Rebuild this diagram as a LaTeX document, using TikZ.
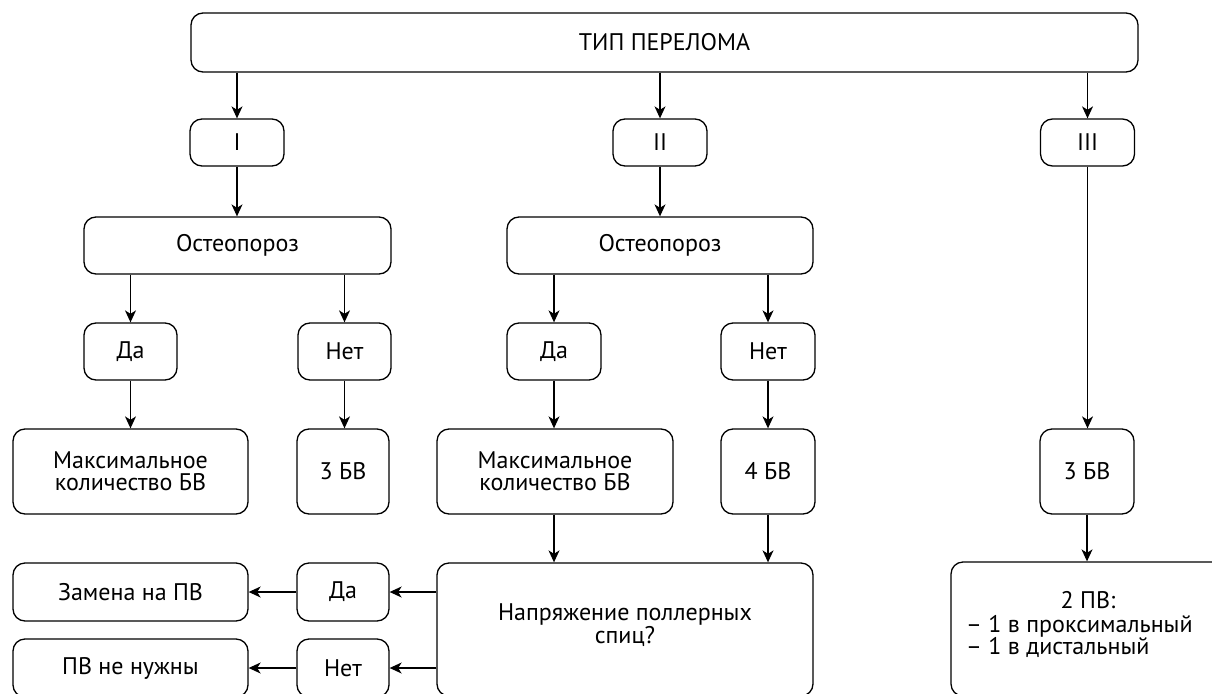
\documentclass[tikz,border=0pt]{standalone}
\usepackage{fontspec}
\setmainfont{PT Sans}
\usetikzlibrary{arrows.meta}
\begin{document}
\begin{tikzpicture}[x=1pt,y=-1pt,
  box/.style={draw=black, rounded corners=12pt, line width=1.3pt, align=center, inner sep=0pt,
    font=\fontsize{24}{22}\selectfont, text=black},
  txt/.style={inner sep=0pt, font=\fontsize{24}{22.5}\selectfont, text=black},
  arr/.style={line width=1.3pt, -{Stealth[length=12pt,width=11pt,inset=3.5pt]}}]
\useasboundingbox (0,0) rectangle (1212,693);
\clip (0,0) rectangle (1212,693);
% nodes
\node[box, minimum width=947, minimum height=59] (top) at (664.5,42.5) {ТИП ПЕРЕЛОМА};
\node[box, minimum width=94, minimum height=47] (t1) at (237,142.5) {I};
\node[box, minimum width=94, minimum height=47] (t2) at (660,142.5) {II};
\node[box, minimum width=94, minimum height=47] (t3) at (1087.5,142.5) {III};
\node[box, minimum width=307, minimum height=57] (o1) at (237.5,245.5) {Остеопороз};
\node[box, minimum width=306, minimum height=57] (o2) at (660,245.5) {Остеопороз};
\node[box, minimum width=93, minimum height=57] (da1) at (130.5,351.5) {Да};
\node[box, minimum width=93, minimum height=57] (net1) at (344.5,351.5) {Нет};
\node[box, minimum width=94, minimum height=57] (da2) at (554,351.5) {Да};
\node[box, minimum width=94, minimum height=57] (net2) at (768,351.5) {Нет};
\node[box, minimum width=235, minimum height=85] (m1) at (130.5,471.5) {Максимальное\\количество БВ};
\node[box, minimum width=92, minimum height=85] (b3a) at (343,471.5) {3 БВ};
\node[box, minimum width=236, minimum height=85] (m2) at (555,471.5) {Максимальное\\количество БВ};
\node[box, minimum width=94, minimum height=85] (b4) at (768,471.5) {4 БВ};
\node[box, minimum width=94, minimum height=85] (b3b) at (1087,471.5) {3 БВ};
\node[box, minimum width=376, minimum height=133] (nap) at (625,629.5) {};
\node[txt, align=center] (naptxt) at (625,625) {Напряжение поллерных\\спиц?};
\node[box, minimum width=274, minimum height=134] (pv2) at (1088,629) {};
\node[txt] (pv2a) at (1088,600) {2 ПВ:};
\node[txt, align=left, anchor=west] (pv2b) at (966,636.5) {– 1 в проксимальный\\– 1 в дистальный};
\node[box, minimum width=235, minimum height=58] (zam) at (130.5,592) {Замена на ПВ};
\node[box, minimum width=92, minimum height=58] (da3) at (343,592) {Да};
\node[box, minimum width=235, minimum height=58] (pvn) at (130.5,668) {ПВ не нужны};
\node[box, minimum width=92, minimum height=58] (net3) at (343,668) {Нет};
% connectors
\draw[arr] (t1.north |- top.south) -- (t1.north);
\draw[arr] (t2.north |- top.south) -- (t2.north);
\draw[arr] (t3.north |- top.south) -- (t3.north);
\draw[arr] (t1.south) -- (t1.south |- o1.north);
\draw[arr] (t2.south) -- (t2.south |- o2.north);
\draw[arr] (da1.north |- o1.south) -- (da1.north);
\draw[arr] (net1.north |- o1.south) -- (net1.north);
\draw[arr] (da2.north |- o2.south) -- (da2.north);
\draw[arr] (net2.north |- o2.south) -- (net2.north);
\draw[arr] (da1.south) -- (da1.south |- m1.north);
\draw[arr] (net1.south) -- (net1.south |- b3a.north);
\draw[arr] (da2.south) -- (da2.south |- m2.north);
\draw[arr] (net2.south) -- (net2.south |- b4.north);
\draw[arr] (t3.south) -- (t3.south |- b3b.north);
\draw[arr] (da2.south |- m2.south) -- (da2.south |- nap.north);
\draw[arr] (b4.south) -- (b4.south |- nap.north);
\draw[arr] (b3b.south) -- (b3b.south |- pv2.north);
\draw[arr] (nap.west |- da3.east) -- (da3.east);
\draw[arr] (nap.west |- net3.east) -- (net3.east);
\draw[arr] (da3.west) -- (zam.east);
\draw[arr] (net3.west) -- (pvn.east);
\end{tikzpicture}
\end{document}
